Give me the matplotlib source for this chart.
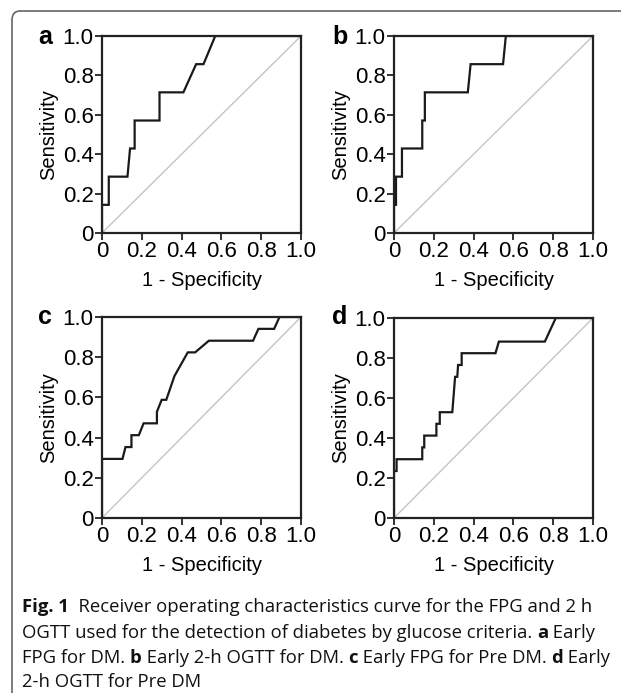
import numpy as np
import matplotlib
matplotlib.use("Agg")
import matplotlib.pyplot as plt
from matplotlib.patches import FancyBboxPatch

# ROC curve points (1 - specificity, sensitivity)
fpr_a = [0, 0, 0.034, 0.034, 0.128, 0.141, 0.164, 0.164, 0.289, 0.289, 0.409, 0.473, 0.51, 0.569, 1.0]
tpr_a = [0, 0.143, 0.143, 0.286, 0.286, 0.429, 0.429, 0.571, 0.571, 0.714, 0.714, 0.857, 0.857, 1.0, 1.0]

fpr_b = [0, 0, 0.01, 0.01, 0.04, 0.04, 0.142, 0.142, 0.155, 0.155, 0.371, 0.385, 0.548, 0.562, 1.0]
tpr_b = [0, 0.143, 0.143, 0.286, 0.286, 0.429, 0.429, 0.571, 0.571, 0.714, 0.714, 0.857, 0.857, 1.0, 1.0]

fpr_c = [0, 0, 0.103, 0.118, 0.148, 0.148, 0.185, 0.209, 0.276, 0.276, 0.30, 0.323, 0.364, 0.431,
         0.468, 0.537, 0.759, 0.786, 0.865, 0.892, 1.0]
tpr_c = [0, 0.294, 0.294, 0.353, 0.353, 0.412, 0.412, 0.471, 0.471, 0.529, 0.588, 0.588, 0.706, 0.824,
         0.824, 0.882, 0.882, 0.941, 0.941, 1.0, 1.0]

fpr_d = [0, 0, 0.013, 0.013, 0.142, 0.142, 0.152, 0.152, 0.213, 0.213, 0.23, 0.23, 0.293, 0.307,
         0.318, 0.322, 0.34, 0.34, 0.51, 0.527, 0.758, 0.813, 1.0]
tpr_d = [0, 0.235, 0.235, 0.294, 0.294, 0.353, 0.353, 0.412, 0.412, 0.471, 0.471, 0.529, 0.529, 0.706,
         0.706, 0.765, 0.765, 0.824, 0.824, 0.882, 0.882, 1.0, 1.0]

panel_letters = ["a", "b", "c", "d"]
ticks = [0, 0.2, 0.4, 0.6, 0.8, 1.0]
tick_labels = ["0", "0.2", "0.4", "0.6", "0.8", "1.0"]

caption_lines = [
    [("Fig. 1", True), ("  Receiver operating characteristics curve for the FPG and 2 h", False)],
    [("OGTT used for the detection of diabetes by glucose criteria. ", False), ("a", True), (" Early", False)],
    [("FPG for DM. ", False), ("b", True), (" Early 2-h OGTT for DM. ", False), ("c", True),
     (" Early FPG for Pre DM. ", False), ("d", True), (" Early", False)],
    [("2-h OGTT for Pre DM", False)],
]

W, H = 621, 693
fig = plt.figure(figsize=(W / 100, H / 100), dpi=100)
plt.rcParams['font.family'] = ['Liberation Sans', 'DejaVu Sans']

# figure border (left + top with rounded corner)
border = FancyBboxPatch((12 / W, -0.2), 2.0, 1.2 - 11 / H,
                        boxstyle="round,pad=0,rounding_size=0.013",
                        transform=fig.transFigure, fill=False, ec="#666666", lw=1.2)
fig.patches.append(border)

# axes boxes in pixels: (left, top, right, bottom) and panel letter positions
boxes = [(102, 36, 301, 233), (394, 36, 593, 233), (102, 317, 301, 518), (394, 318, 593, 518)]
letter_pos = [(45, 37), (340, 37), (45, 317), (340, 317)]
curves = [(fpr_a, tpr_a), (fpr_b, tpr_b), (fpr_c, tpr_c), (fpr_d, tpr_d)]

for (l, t, r, b), (fx, ty), letter, (lx, ly) in zip(boxes, curves, panel_letters, letter_pos):
    ax = fig.add_axes([l / W, 1 - b / H, (r - l) / W, (b - t) / H])
    ax.plot([0, 1], [0, 1], color="#c4c4c4", lw=1.0)
    ax.plot(fx, ty, color="#1a1a1a", lw=1.6, solid_joinstyle="miter")
    ax.set_xlim(0, 1)
    ax.set_ylim(0, 1)
    ax.set_xticks(ticks)
    ax.set_yticks(ticks)
    ax.set_xticklabels(tick_labels, fontsize=16)
    ax.set_yticklabels(tick_labels, fontsize=16)
    ax.tick_params(direction="out", length=5, width=1.3, pad=1, color="#222222")
    for s in ax.spines.values():
        s.set_linewidth(1.6)
        s.set_color("#222222")
    ax.set_xlabel("1 - Specificity", fontsize=14.5, labelpad=6)
    ax.set_ylabel("Sensitivity", fontsize=14.5, labelpad=3)
    fig.text(lx / W, 1 - ly / H, letter, fontsize=18, fontweight="bold", ha="center", va="center")

# caption with mixed bold runs
fig.canvas.draw()
renderer = fig.canvas.get_renderer()
line_y = [607, 633, 658, 682]
for segs, yp in zip(caption_lines, line_y):
    x = 22
    for txt, bold in segs:
        tt = fig.text(x / W, 1 - yp / H, txt, fontsize=13.3, family=["Open Sans", "DejaVu Sans"],
                      fontweight="bold" if bold else "normal", va="center", ha="left",
                      color="#111111")
        bb = tt.get_window_extent(renderer=renderer)
        x += bb.width

fig.savefig("out.png", dpi=100)
